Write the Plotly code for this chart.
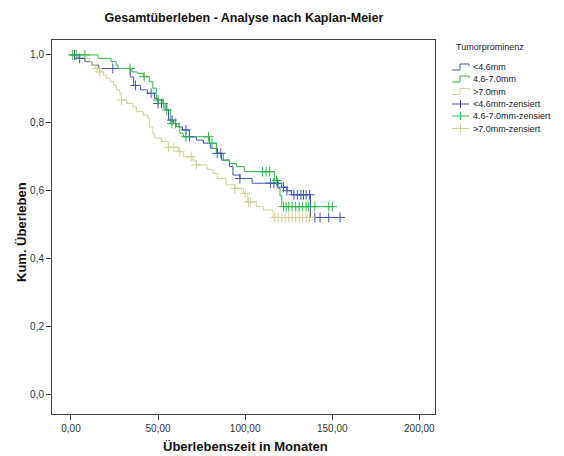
import numpy as np
import plotly.graph_objects as go

# ---- data -------------------------------------------------------------
group_names = ["<4.6mm", "4.6-7.0mm", ">7.0mm"]
group_colors = ["#3E58AC", "#2EB848", "#D3CE97"]

# <4.6mm: step times (months) and survival after each step
small_event_t = [4, 8, 12, 16, 34, 36, 40, 44, 48, 50, 54, 56, 59, 62, 64, 68,
                 72, 76, 80, 84, 86.5, 91, 93, 97, 104, 121, 124, 126.5, 137.5]
small_surv = [0.99, 0.98, 0.97, 0.96, 0.935, 0.91, 0.897, 0.887, 0.872, 0.857,
              0.838, 0.808, 0.798, 0.788, 0.779, 0.759, 0.749, 0.740, 0.725,
              0.710, 0.690, 0.671, 0.646, 0.636, 0.622, 0.610, 0.600, 0.588, 0.521]
small_cens_t = [2, 5, 24, 37, 46, 50, 52, 58, 66, 68, 84, 86, 97, 114.5, 116.5,
                118.5, 122, 124, 128, 130, 132, 133.5, 135, 137, 140, 143, 148, 154.5]
small_end = 154.5

# 4.6-7.0mm
mid_event_t = [15.5, 23, 26, 27, 35, 38, 41.5, 45, 47, 49, 53, 55, 57, 60.5,
               62.5, 64.5, 79.5, 83.5, 87.5, 91, 95, 99.5, 117, 119, 120, 121]
mid_surv = [0.99, 0.98, 0.97, 0.96, 0.95, 0.946, 0.936, 0.921, 0.902, 0.867,
            0.857, 0.838, 0.798, 0.788, 0.769, 0.759, 0.740, 0.710, 0.690, 0.680,
            0.671, 0.656, 0.630, 0.607, 0.585, 0.553]
mid_cens_t = [1, 3, 8, 34, 42, 50, 53, 55, 58, 60, 66, 79, 81, 110, 112, 114,
              118, 122, 123.5, 125, 127, 129, 131, 133, 135, 136.5, 140, 148, 150]
mid_end = 150

# >7.0mm
large_event_t = [9, 10.5, 12, 14, 16.5, 18.5, 20.5, 22.5, 24.5, 26, 28, 29, 32,
                 35.5, 37.5, 41.5, 44, 45, 47, 48, 52, 56, 61.5, 64.5, 70, 72,
                 78, 81.5, 84, 89, 94, 99, 101.5, 106.5, 110.5, 116]
large_surv = [0.99, 0.98, 0.97, 0.96, 0.95, 0.941, 0.931, 0.921, 0.911, 0.897,
              0.887, 0.867, 0.857, 0.847, 0.833, 0.823, 0.813, 0.788, 0.769,
              0.755, 0.745, 0.728, 0.715, 0.700, 0.690, 0.676, 0.663, 0.651,
              0.636, 0.617, 0.607, 0.592, 0.567, 0.553, 0.543, 0.521]
large_cens_t = [15, 16.5, 29, 56, 59, 62.5, 69, 72, 94, 100, 102, 103, 117, 119,
                121, 123, 125, 127, 129, 131, 133, 135, 137]
large_end = 137.5

x_ticks = [0, 50, 100, 150, 200]
y_ticks = [0.0, 0.2, 0.4, 0.6, 0.8, 1.0]

series = [
    (small_event_t, small_surv, small_cens_t, small_end),
    (mid_event_t, mid_surv, mid_cens_t, mid_end),
    (large_event_t, large_surv, large_cens_t, large_end),
]


def surv_at(t, ev_t, surv):
    idx = np.searchsorted(np.asarray(ev_t), t, side="right")
    return 1.0 if idx == 0 else surv[idx - 1]


fig = go.Figure()

# step curves
for (ev_t, surv, cens_t, end), name, col in zip(series, group_names, group_colors):
    xs = [0] + list(ev_t) + [end]
    ys = [1.0] + list(surv) + [surv[-1]]
    fig.add_trace(go.Scatter(x=xs, y=ys, mode="lines", line_shape="hv",
                             line=dict(color=col, width=1), name=name,
                             showlegend=False, hoverinfo="skip"))

# censoring marks
for (ev_t, surv, cens_t, end), name, col in zip(series, group_names, group_colors):
    cy = [surv_at(t, ev_t, surv) for t in cens_t]
    fig.add_trace(go.Scatter(x=cens_t, y=cy, mode="markers",
                             marker=dict(symbol="cross-thin", size=7,
                                         line=dict(color=col, width=1)),
                             name=name + "-zensiert", showlegend=False))

# ---- layout -----------------------------------------------------------
W, H = 564, 456
L, R, T, B = 52, 435, 40, 414


def px(x):
    return (x - L) / (R - L)


def py(y):
    return (B - y) / (B - T)


axis_common = dict(showgrid=False, zeroline=False, showline=True, mirror=True,
                   linecolor="#444", linewidth=1, ticks="outside", ticklen=5,
                   tickcolor="#444", tickfont=dict(family="Liberation Sans", size=10,
                                                   color="#333"))

fig.update_layout(
    width=W, height=H,
    margin=dict(l=L, r=W - R, t=T, b=H - B),
    paper_bgcolor="white", plot_bgcolor="white",
    separators=",.",
    showlegend=False,
    title=dict(text="<b>Gesamtüberleben - Analyse nach Kaplan-Meier</b>",
               x=px(244), xref="paper", xanchor="center",
               y=1 - 18 / H, yref="container", yanchor="middle",
               font=dict(family="Liberation Sans", size=12.5, color="#111")),
    xaxis=dict(range=[-10.9, 209], tickvals=x_ticks, tickformat=".2f", **axis_common),
    yaxis=dict(range=[-0.058, 1.044], tickvals=y_ticks, tickformat=".1f", **axis_common),
)

annotations = [
    dict(text="<b>Überlebenszeit in Monaten</b>", x=px(245), y=py(447),
         xref="paper", yref="paper", showarrow=False, xanchor="center",
         yanchor="middle", font=dict(family="Liberation Sans", size=13, color="#111")),
    dict(text="<b>Kum. Überleben</b>", x=px(21), y=py(232), textangle=-90,
         xref="paper", yref="paper", showarrow=False, xanchor="center",
         yanchor="middle", font=dict(family="Liberation Sans", size=13, color="#111")),
    dict(text="Tumorprominenz", x=px(490), y=py(47), xref="paper", yref="paper",
         showarrow=False, xanchor="center", yanchor="middle",
         font=dict(family="Liberation Sans", size=9, color="#222")),
]

shapes = []
legend_labels = group_names + [n + "-zensiert" for n in group_names]
legend_colors = group_colors + group_colors
row_y = [67, 79, 91.5, 104, 116, 128.5]
for i, (lab, col, yy) in enumerate(zip(legend_labels, legend_colors, row_y)):
    x0, x1 = 452, 469
    if i < 3:
        path = "M {a},{b} L {c},{b} L {c},{d} L {e},{d} L {e},{f}".format(
            a=px(x0), b=py(yy + 3), c=px(x0 + 8), d=py(yy - 3),
            e=px(x1), f=py(yy - 1))
        shapes.append(dict(type="path", path=path, xref="paper", yref="paper",
                           line=dict(color=col, width=1)))
    else:
        shapes.append(dict(type="line", x0=px(x0), x1=px(x1), y0=py(yy), y1=py(yy),
                           xref="paper", yref="paper", line=dict(color=col, width=1)))
        shapes.append(dict(type="line", x0=px(x0 + 8.5), x1=px(x0 + 8.5),
                           y0=py(yy - 4), y1=py(yy + 4), xref="paper", yref="paper",
                           line=dict(color=col, width=1)))
    annotations.append(dict(text=lab, x=px(471), y=py(yy), xref="paper", yref="paper",
                            showarrow=False, xanchor="left", yanchor="middle",
                            font=dict(family="Liberation Sans", size=9, color="#222")))

fig.update_layout(annotations=annotations, shapes=shapes)

fig.write_html("out.html")
